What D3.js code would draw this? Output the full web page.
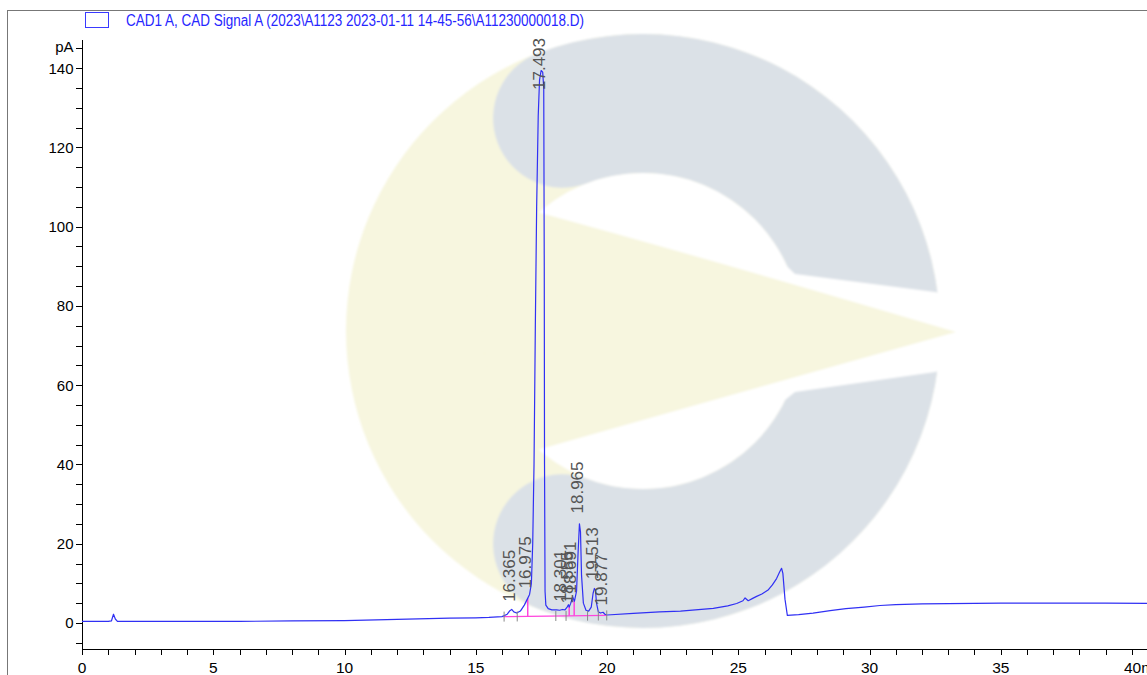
<!DOCTYPE html>
<html><head><meta charset="utf-8">
<script src="https://cdn.jsdelivr.net/npm/d3@7"></script>
<style>html,body{margin:0;padding:0;background:#fff;overflow:hidden}</style>
</head><body>
<svg id="chart" width="1147" height="675"></svg>
<script>
// ---------- data ----------
const legendText = "CAD1 A, CAD Signal A (2023\\A1123 2023-01-11 14-45-56\\A11230000018.D)";
const xTicksMajor = [0, 5, 10, 15, 20, 25, 30, 35, 40];
const xTickLabels = ["0", "5", "10", "15", "20", "25", "30", "35", "40min"];
const yTicksMajor = [0, 20, 40, 60, 80, 100, 120, 140];
const yUnitLabel = "pA";

const times = [0,1.0,1.12,1.2,1.27,1.35,2,4,6,8,10,12,14,15,15.5,16.0,16.2,16.3,16.37,16.45,16.56,16.7,16.85,16.94,17.05,17.12,17.17,17.22,17.27,17.32,17.38,17.43,17.49,17.55,17.59,17.61,17.62,17.64,17.67,17.76,17.9,18.08,18.2,18.3,18.4,18.48,18.53,18.56,18.62,18.69,18.76,18.84,18.9,18.95,18.99,19.03,19.1,19.2,19.3,19.4,19.47,19.52,19.56,19.6,19.67,19.75,19.85,19.92,20.0,21.0,22.0,22.8,24.05,24.6,24.94,25.18,25.26,25.38,25.55,25.7,25.9,26.15,26.3,26.46,26.58,26.65,26.7,26.78,26.87,27.3,27.85,28.5,29.1,29.8,30.4,31,32,33,35,37,39,41];
const signal = [0.4,0.4,0.5,2.2,1.0,0.4,0.4,0.4,0.4,0.5,0.6,0.9,1.2,1.3,1.4,1.6,2.2,3.1,3.4,2.8,2.5,3.0,4.5,5.7,7.2,10,20,40,75,105,128,137,139.4,139,135,90,40,8,4.5,3.6,3.3,3.3,3.2,3.4,3.3,4.0,4.6,4.0,5.0,6.6,5.5,8,18,25.0,23,12,5,3.2,3.0,4,7.5,8.7,8.3,5,2.8,2.5,2.7,2.2,2.0,2.4,2.8,3.0,3.7,4.3,4.9,5.6,6.3,5.6,6.2,6.7,7.3,8.4,9.6,11.2,12.9,13.8,12.5,6,1.9,2.1,2.5,3.1,3.6,4.0,4.4,4.6,4.8,4.9,5.0,5.0,5.0,4.9];

const peakTimes   = [16.365, 16.975, 17.493, 18.301, 18.555, 18.691, 18.965, 19.513, 19.877];
const peakLabels  = ["16.365","16.975","17.493","18.301","18.555","18.691","18.965","19.513","19.877"];
const peakHeights = [3.3, 6.7, 139.4, 3.3, 2.9, 5.4, 25.6, 9.0, 2.4];

const integBaseTimes  = [16.05, 19.99];
const integBaseValues = [1.6, 1.9];
const dropLineTimes   = [16.98, 18.56, 18.75];
const markerTimes     = [16.08, 16.58, 18.05, 18.44, 19.26, 19.67, 19.99];

// ---------- layout ----------
const W = 1147, H = 675;
const svg = d3.select("#chart");
const x = d3.scaleLinear().domain([0, 40]).range([82, 1132]);
const y = d3.scaleLinear().domain([-6.7, 147.1]).range([649.5, 40]);
const FONT = "'Liberation Sans', Arial, sans-serif";

// ---------- watermark (background decoration) ----------
const defs = svg.append("defs");
defs.append("filter").attr("id","soft").append("feGaussianBlur").attr("stdDeviation",1.0);
const wm = svg.append("g").attr("filter","url(#soft)");
const YEL = "#f7f6df", GRY = "#dbe1e7";
const CX = 643, CY = 331, RO = 297, RI = 158;
const RM = (RO + RI) / 2, RC = (RO - RI) / 2;
wm.append("circle").attr("cx",CX).attr("cy",CY).attr("r",RO).attr("fill",YEL);
{
  const a1 = 249.3 * Math.PI / 180, a2 = (110.7 + 360) * Math.PI / 180;
  const p = d3.path();
  p.moveTo(CX + RO*Math.cos(a1), CY + RO*Math.sin(a1));
  p.arc(CX, CY, RO, a1, a2, false);
  p.arc(CX + RM*Math.cos(a2), CY + RM*Math.sin(a2), RC, a2, a2 + Math.PI, false);
  p.arc(CX, CY, RI, a2, a1, true);
  p.arc(CX + RM*Math.cos(a1), CY + RM*Math.sin(a1), RC, a1 + Math.PI, a1 + 2*Math.PI, false);
  p.closePath();
  wm.append("path").attr("d", p.toString()).attr("fill", GRY);
}
wm.append("circle").attr("cx",CX).attr("cy",CY).attr("r",RI).attr("fill","#fff");
wm.append("path").attr("d","M760,240 L795,274 L935,292 L965,300 L965,362 L935,372 L795,392 L760,420 Z").attr("fill","#fff");
wm.append("path").attr("d","M537,212 Q720,262 956,332 Q720,398 537,450 A158 158 0 0 1 537,212 Z").attr("fill",YEL);

// ---------- frame ----------
svg.append("line").attr("x1",7).attr("x2",W).attr("y1",10.5).attr("y2",10.5).attr("stroke","#777");
svg.append("line").attr("x1",7.5).attr("x2",7.5).attr("y1",10).attr("y2",H).attr("stroke","#777");

// ---------- legend ----------
svg.append("rect").attr("x",85.5).attr("y",12.5).attr("width",23).attr("height",15)
  .attr("fill","none").attr("stroke","#3a3aff").attr("stroke-width",1);
svg.append("text").attr("x",126).attr("y",26).attr("fill","#2626ff")
  .attr("font-family","'Liberation Sans Narrow', 'Liberation Sans', Arial, sans-serif")
  .attr("font-size",16).attr("textLength",458).attr("lengthAdjust","spacingAndGlyphs")
  .text(legendText);

// ---------- axes ----------
const axisG = svg.append("g").attr("stroke","#000").attr("fill","none").attr("stroke-width",1);
axisG.append("line").attr("x1",82.5).attr("x2",82.5).attr("y1",y.range()[1]).attr("y2",650).attr("shape-rendering","crispEdges");
axisG.append("line").attr("x1",82).attr("x2",W).attr("y1",649.5).attr("y2",649.5).attr("shape-rendering","crispEdges");

const yAll = d3.range(-5, 146, 5);
yAll.forEach(v => {
  axisG.append("line").attr("x1",76).attr("x2",82).attr("y1",Math.round(y(v))+0.5).attr("y2",Math.round(y(v))+0.5).attr("shape-rendering","crispEdges");
});
svg.append("g").selectAll("text").data(yTicksMajor).join("text")
  .attr("x",73.5).attr("y",d=>y(d)).attr("dy","0.36em").attr("text-anchor","end")
  .attr("font-family",FONT).attr("font-size",15).attr("fill","#000").text(d=>d);
svg.append("text").attr("x",73.5).attr("y",y(145)).attr("dy","0.25em").attr("text-anchor","end")
  .attr("font-family",FONT).attr("font-size",15).attr("fill","#000").text(yUnitLabel);

const xAll = d3.range(0, 41, 1);
xAll.forEach(t => {
  axisG.append("line").attr("x1",Math.round(x(t))+0.5).attr("x2",Math.round(x(t))+0.5).attr("y1",649.5).attr("y2",655).attr("shape-rendering","crispEdges");
});
svg.append("g").selectAll("text").data(xTicksMajor).join("text")
  .attr("x",d=>x(d)).attr("y",667).attr("dy","0.36em")
  .attr("text-anchor",(d,i)=> i===xTicksMajor.length-1 ? "start" : "middle")
  .attr("dx",(d,i)=> i===xTicksMajor.length-1 ? -8 : 0)
  .attr("font-family",FONT).attr("font-size",15.5).attr("fill","#000")
  .text((d,i)=>xTickLabels[i]);

// ---------- integration baseline & drop lines ----------
const interp = t => {
  const i = d3.bisectLeft(times, t);
  if (i <= 0) return signal[0];
  const t0 = times[i-1], t1 = times[i];
  return signal[i-1] + (signal[i]-signal[i-1])*(t-t0)/(t1-t0);
};
const baseAt = t => integBaseValues[0] + (integBaseValues[1]-integBaseValues[0])*(t-integBaseTimes[0])/(integBaseTimes[1]-integBaseTimes[0]);
svg.append("line").attr("x1",x(integBaseTimes[0])).attr("x2",x(integBaseTimes[1]))
  .attr("y1",y(integBaseValues[0])).attr("y2",y(integBaseValues[1]))
  .attr("stroke","#ff44dd").attr("stroke-width",1.2);
svg.append("g").selectAll("line").data(dropLineTimes).join("line")
  .attr("x1",d=>x(d)).attr("x2",d=>x(d)).attr("y1",d=>y(baseAt(d))).attr("y2",d=>y(interp(d)))
  .attr("stroke","#ff44dd").attr("stroke-width",1.5);

// ---------- signal ----------
svg.append("path").datum(times.map((t,i)=>[t,signal[i]]))
  .attr("fill","none").attr("stroke","#3030f4").attr("stroke-width",1.2).attr("stroke-linejoin","round")
  .attr("d", d3.line().x(d=>x(d[0])).y(d=>y(d[1])));

svg.append("g").selectAll("line").data(markerTimes).join("line")
  .attr("x1",d=>x(d)).attr("x2",d=>x(d)).attr("y1",d=>y(baseAt(d))-5).attr("y2",d=>y(baseAt(d))+5)
  .attr("stroke","#888").attr("stroke-width",1);

// ---------- peak labels ----------
const LABEL_FS = 17, TOP_LIMIT = 38;
svg.append("g").selectAll("text").data(peakTimes).join("text")
  .each(function(d,i){
    const el = d3.select(this)
      .attr("font-family",FONT).attr("font-size",LABEL_FS).attr("fill","#555")
      .attr("text-anchor","start").attr("dominant-baseline","central")
      .text(peakLabels[i]);
    const len = this.getComputedTextLength();
    let bottom = y(peakHeights[i]) - 8;
    if (bottom - len < TOP_LIMIT) bottom = TOP_LIMIT + len;
    const px = x(d) - 2;
    el.attr("transform",`translate(${px},${bottom}) rotate(-90)`);
  });
</script>
</body></html>
